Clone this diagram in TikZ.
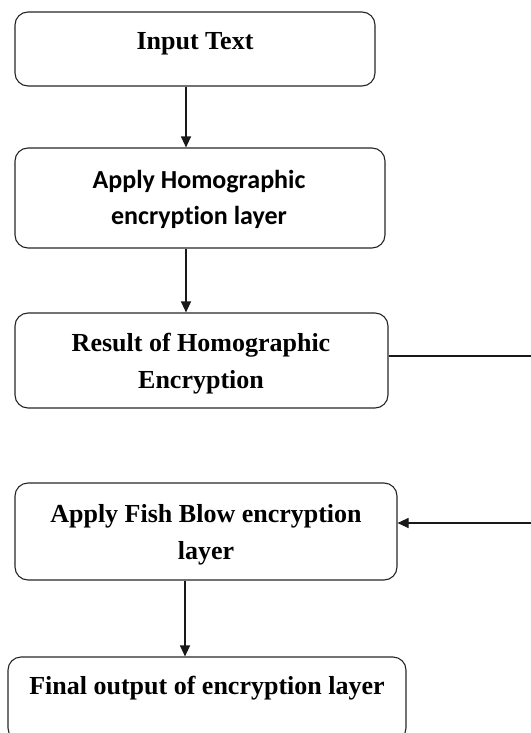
\documentclass[tikz,border=0pt]{standalone}
\usepackage{fontspec}
\setmainfont{Liberation Serif}
\newfontfamily\calib[Ligatures=NoCommon]{Carlito}
\usetikzlibrary{arrows.meta}
\tikzset{
  box/.style={draw=black!85, line width=1.1pt, rounded corners=13pt, inner sep=0pt},
  lbl/.style={align=center, font=\bfseries\fontsize{26}{37}\selectfont, inner sep=0pt},
  lbls/.style={align=center, font=\calib\bfseries\fontsize{26}{36}\selectfont, inner sep=0pt},
  conn/.style={draw=black!90, line width=1.1pt},
  arr/.style={conn, -{Triangle[length=11pt,width=10pt]}}
}
\begin{document}
\begin{tikzpicture}[x=1pt,y=-1pt]
\useasboundingbox (0,0) rectangle (530,733);
\node[box, minimum width=360pt, minimum height=74pt] (b1) at (195,49) {};
\node[box, minimum width=370pt, minimum height=100pt] (b2) at (200,198) {};
\node[box, minimum width=373pt, minimum height=95pt] (b3) at (201.5,360.5) {};
\node[box, minimum width=382pt, minimum height=97pt] (b4) at (206,531.5) {};
\begin{scope}
\clip (0,0) rectangle (530,733);
\node[box, minimum width=398pt, minimum height=84pt] (b5) at (207,699) {};
\end{scope}
\node[lbl] (t1) at (195,44) {Input Text};
\node[lbls] (t2) at (199,199) {Apply Homographic\\encryption layer};
\node[lbl] (t3) at (201,364) {Result of Homographic\\Encryption};
\node[lbl] (t4) at (206,535) {Apply Fish Blow encryption\\layer};
\node[lbl] (t5) at (207,688) {Final output of encryption layer};
\coordinate (ax) at (186,0);
\coordinate (ax2) at (185,0);
\draw[arr] (b1.south -| ax) -- (b2.north -| ax);
\draw[arr] (b2.south -| ax) -- (b3.north -| ax);
\draw[arr] (b4.south -| ax2) -- (b5.north -| ax2);
\coordinate (r1) at (531,356);
\coordinate (r2) at (531,523);
\draw[conn] (b3.east |- r1) -- (r1);
\draw[arr] (r2) -- (b4.east |- r2);
\end{tikzpicture}
\end{document}
